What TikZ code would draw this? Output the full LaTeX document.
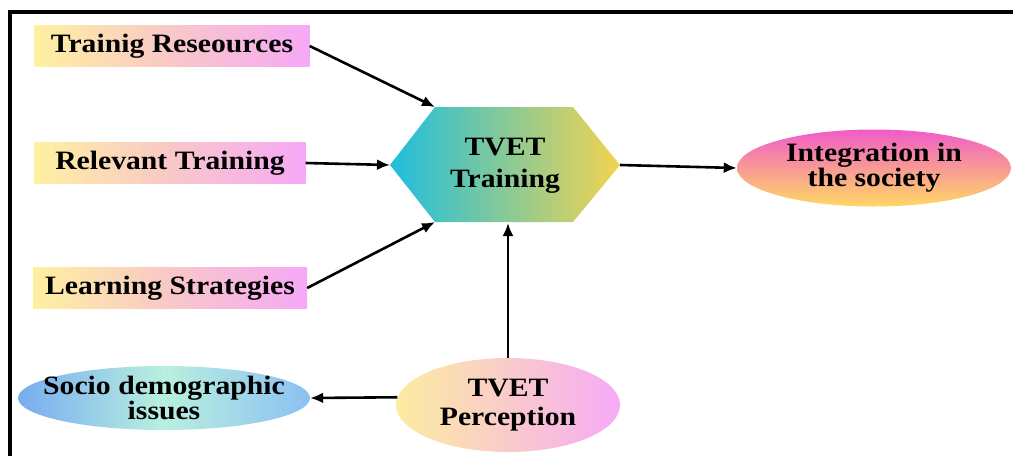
\documentclass[tikz,border=0pt]{standalone}
\usepackage{fontspec}
\setmainfont{Liberation Serif}[FakeStretch=1.12]
\usetikzlibrary{arrows.meta,shapes.geometric}
\definecolor{boxY}{RGB}{255,240,160}
\definecolor{boxM}{RGB}{248,200,200}
\definecolor{boxP}{RGB}{246,168,246}
\definecolor{hexC}{RGB}{30,190,222}
\definecolor{hexY}{RGB}{242,212,80}
\definecolor{intP}{RGB}{240,92,200}
\definecolor{intY}{RGB}{255,216,100}
\definecolor{socB}{RGB}{120,172,240}
\definecolor{socM}{RGB}{184,240,222}
\definecolor{socR}{RGB}{140,192,242}
\definecolor{perY}{RGB}{252,236,160}
\definecolor{perP}{RGB}{246,170,246}
\begin{document}
\begin{tikzpicture}[x=1pt,y=-1pt,
  lbl/.style={font=\fontsize{26.5}{28}\selectfont\bfseries, text=black, inner sep=0pt},
  rbox/.style={lbl, rectangle, minimum height=41, left color=boxY, right color=boxP, middle color=boxM},
  oval/.style={lbl, ellipse, align=center, inner xsep=-20pt, inner ysep=-5pt},
  conn/.style={line width=2.6pt, -{Latex[length=13pt,width=11pt]}},
  frame/.style={line width=3.5pt, black}
]
\useasboundingbox (0,0) rectangle (1013,456);
\draw[frame] (10,456) -- (10,12) -- (1013,12);

% input boxes
\node[rbox, minimum width=275] (res) at (172,46) {Trainig Reseources};
\node[rbox, minimum width=271] (rel) at (170,163) {Relevant Training};
\node[rbox, minimum width=274] (lea) at (170,288) {Learning Strategies};

% hexagon
\shade[left color=hexC, right color=hexY] (390,165) -- (435,107) -- (573,107) -- (620,165) -- (573,222) -- (435,222) -- cycle;
\coordinate (hw) at (390,165);
\coordinate (hnw) at (435,107);
\coordinate (hsw) at (435,222);
\coordinate (he) at (620,165);
\coordinate (hs) at (508,223);
\node[lbl, align=center, font=\fontsize{26.5}{32}\selectfont\bfseries] (hex) at (505,166) {TVET\\Training};

% ellipses
\node[oval, minimum width=274, minimum height=77, top color=intP, bottom color=intY,
      font=\fontsize{26.5}{22}\selectfont\bfseries] (int) at (874,168) {Integration in\\the society};
\node[oval, minimum width=292, minimum height=64, left color=socB, right color=socR, middle color=socM,
      font=\fontsize{26.5}{22}\selectfont\bfseries] (soc) at (164,398) {Socio demographic\\issues};
\node[oval, minimum width=224, minimum height=94, left color=perY, right color=perP,
      font=\fontsize{26.5}{29}\selectfont\bfseries] (per) at (508,405) {TVET\\Perception};

% connectors
\draw[conn] (res.east) -- (hnw);
\draw[conn] (rel.east) -- (hw);
\draw[conn] (lea.east) -- (hsw);
\draw[conn] (he) -- (int.west);
\draw[conn] (per.north) -- (hs);
\draw[conn] (per.176) -- (soc.east);
\end{tikzpicture}
\end{document}
